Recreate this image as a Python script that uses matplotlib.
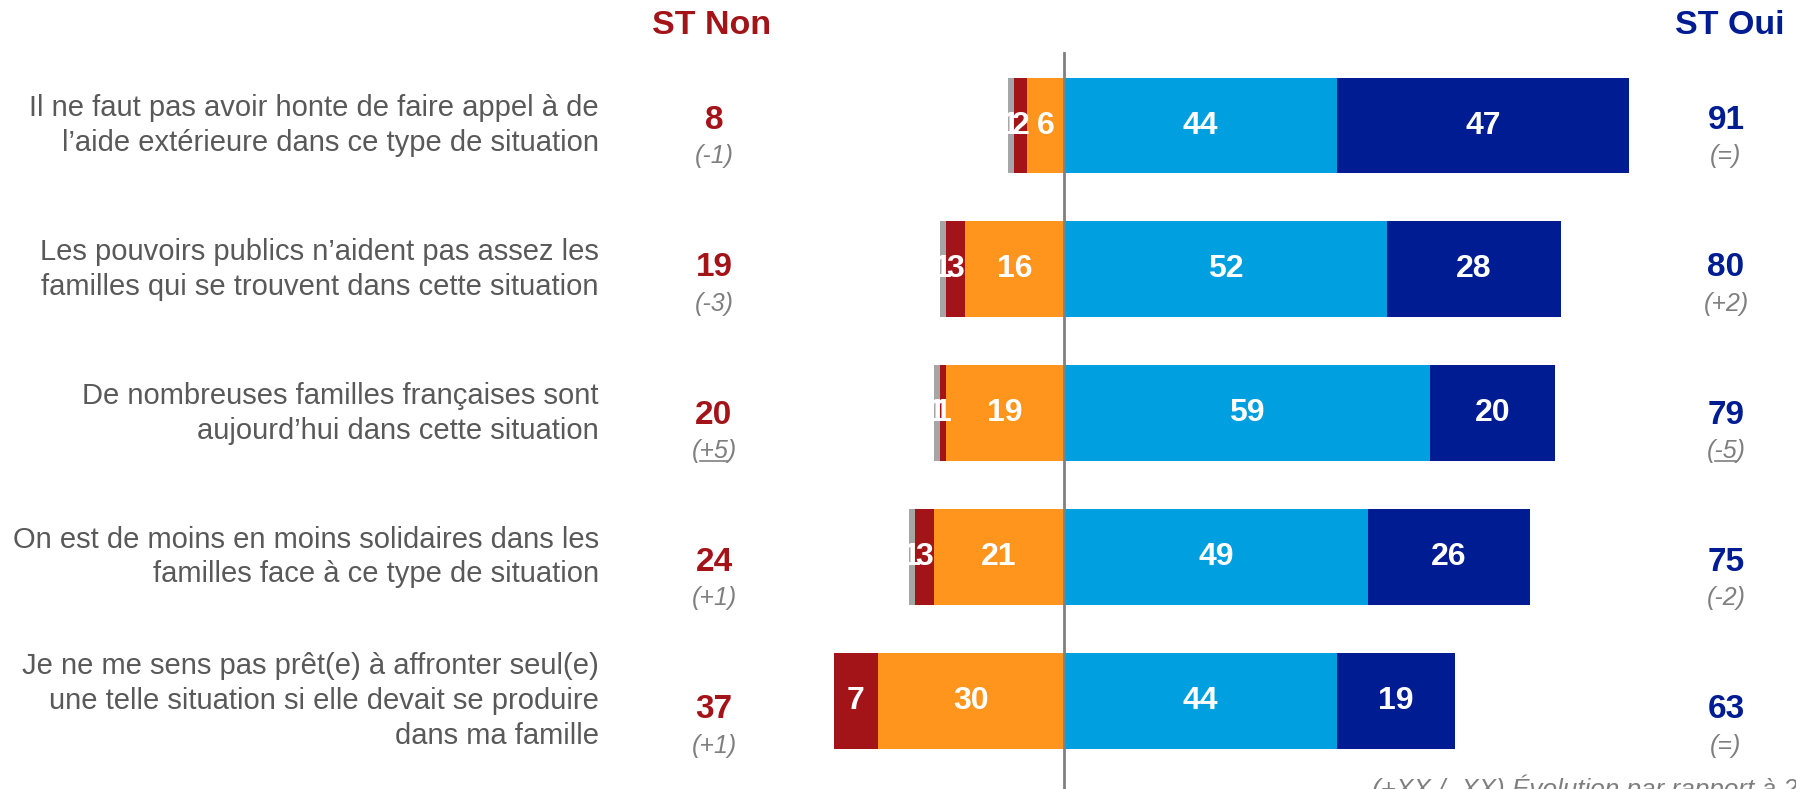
import matplotlib.pyplot as plt
import numpy as np

plt.rcParams['font.family'] = ['Liberation Sans', 'DejaVu Sans']

############# DATA #############
labels = [
    "Il ne faut pas avoir honte de faire appel à de\nl’aide extérieure dans ce type de situation",
    "Les pouvoirs publics n’aident pas assez les\nfamilles qui se trouvent dans cette situation",
    "De nombreuses familles françaises sont\naujourd’hui dans cette situation",
    "On est de moins en moins solidaires dans les\nfamilles face à ce type de situation",
    "Je ne me sens pas prêt(e) à affronter seul(e)\nune telle situation si elle devait se produire\ndans ma famille",
]
nsp = [1, 1, 1, 1, 0]            # gray, far left
pas_du_tout = [2, 3, 1, 3, 7]    # dark red
plutot_pas = [6, 16, 19, 21, 30] # orange
plutot = [44, 52, 59, 49, 44]    # light blue
tout_a_fait = [47, 28, 20, 26, 19]  # dark blue

st_non = [8, 19, 20, 24, 37]
st_non_evo = ["-1", "-3", "+5", "+1", "+1"]
st_non_underline = [False, False, True, False, False]
st_oui = [91, 80, 79, 75, 63]
st_oui_evo = ["=", "+2", "-5", "-2", "="]
st_oui_underline = [False, False, True, False, False]

footnote = "(+XX / -XX) Évolution par rapport à 2019"

############# STYLE #############
c_gray = '#A6A6A6'
c_red = '#A31419'
c_orange = '#FF951C'
c_lblue = '#009FDF'
c_dblue = '#001C93'
c_text = '#595959'
c_evo = '#7F7F7F'

W, H = 1796, 789
center_px = 1064
unit_px = 6.21
row0_px = 125.5
row_px = 143.9

fig = plt.figure(figsize=(W / 100, H / 100), dpi=100)
ax = fig.add_axes([0, 0, 1, 1])
ax.set_xlim(-center_px / unit_px, (W - center_px) / unit_px)
ax.set_ylim((H - row0_px) / row_px, -row0_px / row_px)
ax.axis('off')

y = np.arange(len(labels))
bh = 0.667

neg_dt = np.array(pas_du_tout)
neg_pp = np.array(plutot_pas)
neg_ns = np.array(nsp)

# negative side (right to left: orange, red, gray)
ax.barh(y, -neg_pp, height=bh, color=c_orange, zorder=2)
ax.barh(y, -neg_dt, left=-neg_pp, height=bh, color=c_red, zorder=2)
ax.barh(y, -neg_ns, left=-(neg_pp + neg_dt), height=bh, color=c_gray, zorder=2)
# positive side
ax.barh(y, plutot, height=bh, color=c_lblue, zorder=2)
ax.barh(y, tout_a_fait, left=plutot, height=bh, color=c_dblue, zorder=2)

lab_kw = dict(ha='center', va='center', color='white', fontsize=23, fontweight='bold', zorder=4)
for i in range(len(y)):
    if neg_ns[i] > 0:
        ax.text(-(neg_pp[i] + neg_dt[i] + neg_ns[i] / 2), i, str(neg_ns[i]), **lab_kw)
    ax.text(-(neg_pp[i] + neg_dt[i] / 2), i, str(neg_dt[i]), **lab_kw)
    ax.text(-neg_pp[i] / 2, i, str(neg_pp[i]), **lab_kw)
    ax.text(plutot[i] / 2, i, str(plutot[i]), **lab_kw)
    ax.text(plutot[i] + tout_a_fait[i] / 2, i, str(tout_a_fait[i]), **lab_kw)

# center axis line
ax.plot([0, 0], [(53 - row0_px) / row_px, (H - row0_px) / row_px], color='#808080', lw=2, zorder=3)

# category labels
lab_x = (599 - center_px) / unit_px
for i, lab in enumerate(labels):
    ax.text(lab_x, i, lab, ha='right', va='center', fontsize=21, color=c_text, linespacing=1.3)

# headers
hy = (25 - row0_px) / row_px
non_x = (714 - center_px) / unit_px
oui_x = (1726 - center_px) / unit_px
ax.text((712 - center_px) / unit_px, hy, "ST Non", ha='center', va='center', fontsize=24.5, fontweight='bold', color=c_red)
ax.text((1730 - center_px) / unit_px, hy, "ST Oui", ha='center', va='center', fontsize=24.5, fontweight='bold', color=c_dblue)

fig.canvas.draw()
renderer = fig.canvas.get_renderer()


def evo_text(x, yy, s, underline):
    t = ax.text(x, yy, '(' + s + ')', ha='center', va='center', fontsize=18, style='italic', color=c_evo)
    if underline:
        bb = t.get_window_extent(renderer)
        p = ax.text(0, 0, '(', fontsize=18, style='italic')
        pw = p.get_window_extent(renderer).width
        p.remove()
        inv = ax.transData.inverted()
        x0, y0 = inv.transform((bb.x0 + pw, bb.y0 + 2))
        x1, _ = inv.transform((bb.x1 - pw, bb.y0 + 2))
        ax.plot([x0, x1], [y0, y0], color=c_evo, lw=1.2)


for i in range(len(y)):
    off = -0.035 + 0.024 * i
    ax.text(non_x, i + off, str(st_non[i]), ha='center', va='center', fontsize=24, fontweight='bold', color=c_red)
    ax.text(oui_x, i + off, str(st_oui[i]), ha='center', va='center', fontsize=24, fontweight='bold', color=c_dblue)
    evo_text(non_x, i + off + 0.25, st_non_evo[i], st_non_underline[i])
    evo_text(oui_x, i + off + 0.25, st_oui_evo[i], st_oui_underline[i])

fig.text(1372 / W, 1 - 774 / H, footnote, ha='left', va='top', fontsize=18.8, style='italic', color=c_evo)

fig.savefig('out.png', dpi=100)
